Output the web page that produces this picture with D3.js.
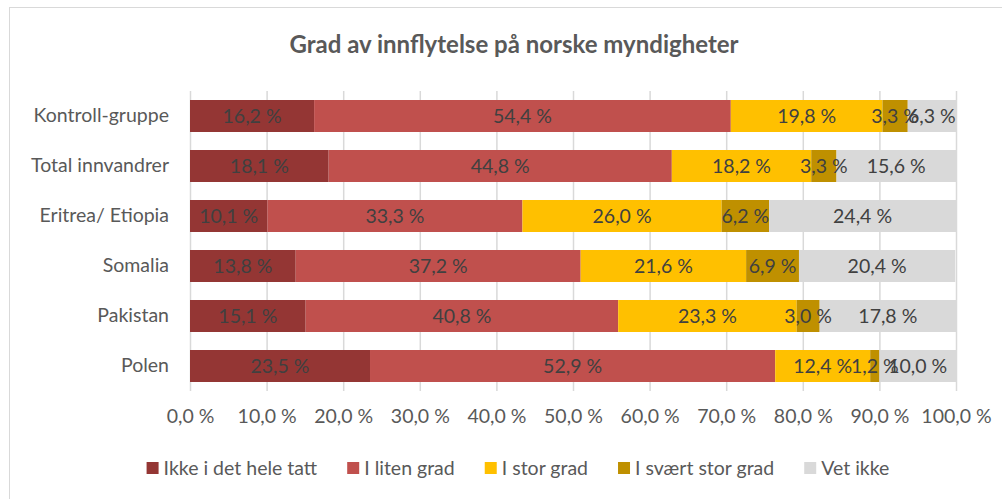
<!DOCTYPE html>
<html>
<head>
<meta charset="utf-8">
<script src="https://cdn.jsdelivr.net/npm/d3@7"></script>
<style>
  body { margin: 0; background: #fff; }
  svg text { font-family: Lato, Calibri, "Open Sans", sans-serif; }
</style>
</head>
<body>
<svg id="chart" width="1002" height="499"></svg>
<script>
// Data
const categories = ["Kontroll-gruppe", "Total innvandrer", "Eritrea/ Etiopia", "Somalia", "Pakistan", "Polen"];
const seriesNames = ["Ikke i det hele tatt", "I liten grad", "I stor grad", "I svært stor grad", "Vet ikke"];
const ikkeIDetHeleTatt = [16.2, 18.1, 10.1, 13.8, 15.1, 23.5];
const iLitenGrad = [54.4, 44.8, 33.3, 37.2, 40.8, 52.9];
const iStorGrad = [19.8, 18.2, 26.0, 21.6, 23.3, 12.4];
const iSvaertStorGrad = [3.3, 3.3, 6.2, 6.9, 3.0, 1.2];
const vetIkke = [6.3, 15.6, 24.4, 20.4, 17.8, 10.0];
const xTicks = [0, 10, 20, 30, 40, 50, 60, 70, 80, 90, 100];

const seriesValues = [ikkeIDetHeleTatt, iLitenGrad, iStorGrad, iSvaertStorGrad, vetIkke];
const colors = ["#943634", "#C0504D", "#FFC000", "#BF9000", "#D9D9D9"];

const fmt = v => v.toFixed(1).replace(".", ",") + " %";
const fontSize = "19.5px";

const svg = d3.select("#chart");

// Ramme
svg.append("rect")
  .attr("x", 9.5).attr("y", 7.5)
  .attr("width", 1000).attr("height", 500)
  .attr("fill", "none")
  .attr("stroke", "#D9D9D9");

// Tittel
svg.append("text")
  .attr("x", 514)
  .attr("y", 45)
  .attr("dy", "0.35em")
  .attr("text-anchor", "middle")
  .style("font-size", "24px")
  .style("font-weight", "bold")
  .style("fill", "#595959")
  .text("Grad av innflytelse på norske myndigheter");

// Skalaer
const x = d3.scaleLinear().domain([0, 100]).range([190, 956]);
const y = d3.scaleBand()
  .domain(categories)
  .range([91, 391])
  .paddingInner(0.36)
  .paddingOuter(0.18);

// Rutenett
svg.append("g")
  .selectAll("line")
  .data(xTicks)
  .enter()
  .append("line")
  .attr("x1", d => x(d) + 0.5)
  .attr("x2", d => x(d) + 0.5)
  .attr("y1", 91)
  .attr("y2", 391)
  .attr("stroke", "#D9D9D9")
  .attr("stroke-width", 1.5);

// X-akse
const xAxis = svg.append("g")
  .attr("transform", "translate(0,391)")
  .call(d3.axisBottom(x).tickValues(xTicks).tickFormat(fmt).tickSize(0).tickPadding(18));
xAxis.select(".domain").remove();
xAxis.selectAll("text")
  .style("font-size", fontSize)
  .style("fill", "#595959");

// Y-akse (kategorier)
const yAxis = svg.append("g")
  .attr("transform", "translate(190,0)")
  .call(d3.axisLeft(y).tickSize(0).tickPadding(21));
yAxis.select(".domain").remove();
yAxis.selectAll("text")
  .style("font-size", fontSize)
  .style("fill", "#595959");

// Stablede søyler
const stacked = categories.map((c, i) => {
  let acc = 0;
  return seriesValues.map((vals, s) => {
    const seg = { cat: c, s: s, x0: acc, x1: acc + vals[i], v: vals[i] };
    acc += vals[i];
    return seg;
  });
});

const rows = svg.append("g")
  .selectAll("g")
  .data(stacked)
  .enter()
  .append("g");

rows.selectAll("rect")
  .data(d => d)
  .enter()
  .append("rect")
  .attr("x", d => x(d.x0))
  .attr("y", d => y(d.cat))
  .attr("width", d => x(d.x1) - x(d.x0))
  .attr("height", y.bandwidth())
  .attr("fill", d => colors[d.s]);

rows.selectAll("text")
  .data(d => d)
  .enter()
  .append("text")
  .attr("x", d => (x(d.x0) + x(d.x1)) / 2)
  .attr("y", d => y(d.cat) + y.bandwidth() / 2)
  .attr("dy", "0.35em")
  .attr("text-anchor", "middle")
  .style("font-size", fontSize)
  .style("fill", "#404040")
  .text(d => fmt(d.v));

// Legende
const legend = svg.append("g");
const items = legend.selectAll("g")
  .data(seriesNames)
  .enter()
  .append("g");

items.append("rect")
  .attr("width", 12)
  .attr("height", 12)
  .attr("y", -6)
  .attr("fill", (d, i) => colors[i]);

items.append("text")
  .attr("x", 17)
  .attr("dy", "0.35em")
  .style("font-size", fontSize)
  .style("fill", "#595959")
  .text(d => d);

let cursor = 0;
items.each(function () {
  const w = 17 + d3.select(this).select("text").node().getComputedTextLength();
  d3.select(this).attr("transform", `translate(${cursor},468)`);
  cursor += w + 30;
});
const total = cursor - 30;
legend.attr("transform", `translate(${518 - total / 2},0)`);
</script>
</body>
</html>
